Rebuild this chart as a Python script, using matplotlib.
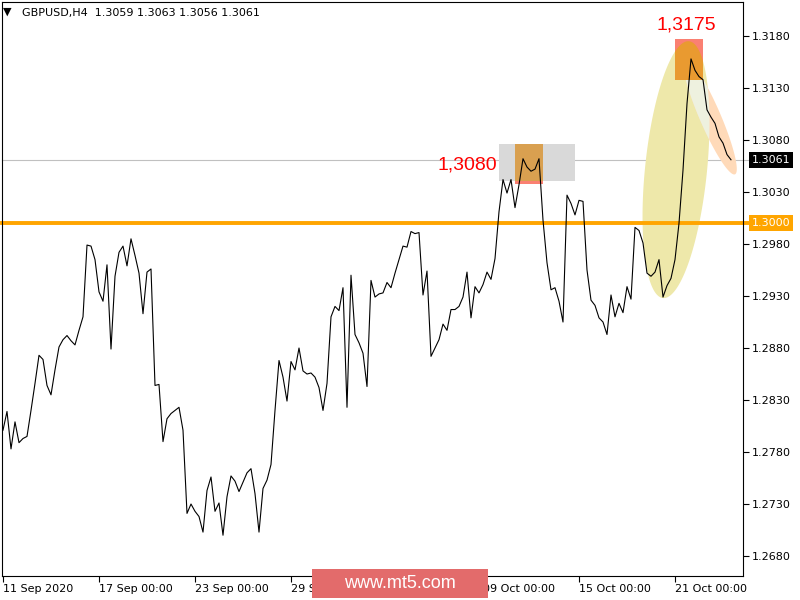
import matplotlib
matplotlib.use('Agg')
import matplotlib.pyplot as plt
import numpy as np
from matplotlib.patches import Rectangle, Polygon
from matplotlib.transforms import blended_transform_factory

# GBPUSD H4 closes, bar 0 = 11 Sep 2020 00:00
close = [
    1.2801, 1.2819, 1.2783, 1.2809, 1.2789, 1.2793, 1.2795, 1.2820, 1.2846, 1.2873,
    1.2869, 1.2844, 1.2835, 1.2859, 1.2881, 1.2888, 1.2892, 1.2887, 1.2883, 1.2897,
    1.2910, 1.2979, 1.2978, 1.2965, 1.2934, 1.2925, 1.2960, 1.2879, 1.2949, 1.2972,
    1.2978, 1.2959, 1.2985, 1.2969, 1.2952, 1.2913, 1.2953, 1.2956, 1.2844, 1.2845,
    1.2790, 1.2812, 1.2817, 1.2820, 1.2823, 1.2801, 1.2721, 1.2730, 1.2723, 1.2718,
    1.2703, 1.2743, 1.2756, 1.2723, 1.2731, 1.2700, 1.2737, 1.2757, 1.2752, 1.2742,
    1.2751, 1.2760, 1.2764, 1.2740, 1.2703, 1.2745, 1.2753, 1.2768, 1.2820, 1.2868,
    1.2852, 1.2829, 1.2867, 1.2859, 1.2880, 1.2858, 1.2855, 1.2856, 1.2852, 1.2842,
    1.2820, 1.2846, 1.2910, 1.2920, 1.2916, 1.2938, 1.2823, 1.2950, 1.2893, 1.2885,
    1.2875, 1.2843, 1.2945, 1.2929, 1.2932, 1.2933, 1.2943, 1.2938, 1.2952, 1.2965,
    1.2978, 1.2977, 1.2992, 1.2990, 1.2991, 1.2931, 1.2954, 1.2872, 1.2880, 1.2888,
    1.2903, 1.2897, 1.2917, 1.2917, 1.2920, 1.2929, 1.2953, 1.2909, 1.2939, 1.2933,
    1.2941, 1.2953, 1.2946, 1.2966, 1.3011, 1.3042, 1.3029, 1.3042, 1.3015, 1.3037,
    1.3062, 1.3054, 1.3050, 1.3052, 1.3062, 1.3003, 1.2962, 1.2936, 1.2938, 1.2925,
    1.2905, 1.3027, 1.3019, 1.3008, 1.3022, 1.3021, 1.2955, 1.2926, 1.2921, 1.2909,
    1.2905, 1.2893, 1.2931, 1.2910, 1.2923, 1.2914, 1.2939, 1.2927, 1.2996, 1.2993,
    1.2981, 1.2952, 1.2949, 1.2953, 1.2965, 1.2929, 1.2940, 1.2947, 1.2965, 1.3000,
    1.3051, 1.3115, 1.3158, 1.3147, 1.3141, 1.3138, 1.3109, 1.3102, 1.3096, 1.3083,
    1.3077, 1.3066, 1.3061,
]

tick_bars = [0, 24, 48, 72, 96, 120, 144, 168]
tick_labels = ['11 Sep 2020', '17 Sep 00:00', '23 Sep 00:00', '29 Sep 00:00',
               '05 Oct 00:00', '09 Oct 00:00', '15 Oct 00:00', '21 Oct 00:00']
price_ticks = [1.2680, 1.2730, 1.2780, 1.2830, 1.2880, 1.2930,
               1.2980, 1.3030, 1.3080, 1.3130, 1.3180]

header = 'GBPUSD,H4  1.3059 1.3063 1.3056 1.3061'
support_level = 1.3000
last_price = 1.3061

# objects drawn on the chart (bar index, price)
zone_box = (124, 143, 1.30406, 1.30762)
zone_mark = (128, 135, 1.30380, 1.30762)
peak_mark = (168, 175, 1.31377, 1.31771)
rally_ellipse = ((165.0, 1.2928), (171.5, 1.3175))
pullback_ellipse = ((170.5, 1.3158), (183.0, 1.3047))


def ellipse_pts(ax, end_a, end_b, half_w, n=160):
    # ellipse built in pixel space between two data points, back to data coords
    a, b = ax.transData.transform([end_a, end_b])
    c = (a + b) / 2
    u = (b - a) / 2
    v = np.array([-u[1], u[0]]) / np.hypot(*u) * half_w
    t = np.linspace(0, 2 * np.pi, n)
    pts = c + np.outer(np.cos(t), u) + np.outer(np.sin(t), v)
    return ax.transData.inverted().transform(pts)


def box(x0, x1, y0, y1, color, z):
    return Rectangle((x0, y0), x1 - x0, y1 - y0, fc=color, ec='none', zorder=z)


fig = plt.figure(figsize=(8, 6), dpi=100)
ax = fig.add_axes([2 / 800, 24 / 600, 741 / 800, 574 / 600])
ax.set_xlim(-0.25, 185)
ax.set_ylim(1.26608, 1.32127)

# 1.3080 zone
ax.add_patch(box(*zone_box, '#D9D9D9', 1))
ax.add_patch(box(*zone_mark, '#FA8072', 1.1))
ax.add_patch(box(zone_mark[0], zone_mark[1], zone_box[2], zone_box[3], '#D9A050', 1.2))

# rally / pullback ellipses and 1.3175 mark
big = Polygon(ellipse_pts(ax, *rally_ellipse, 31), closed=True, fc='#EEE8AA', ec='none', zorder=1)
ax.add_patch(big)
peach_pts = ellipse_pts(ax, *pullback_ellipse, 10.5)
ax.add_patch(Polygon(peach_pts, closed=True, fc='#FFDAB9', ec='none', zorder=1.1))
pale = Polygon(peach_pts, closed=True, fc='#EEF1DF', ec='none', zorder=1.2)
ax.add_patch(pale)
pale.set_clip_path(big)
ax.add_patch(box(*peak_mark, '#FA8072', 1.3))
overlap = box(*peak_mark, '#E99A30', 1.4)
ax.add_patch(overlap)
overlap.set_clip_path(big)

# horizontal levels
ax.axhline(last_price, xmax=1.009, color='#C0C0C0', lw=0.8, zorder=0.5, clip_on=False)
ax.axhline(support_level, xmax=1.009, color='#FFA500', lw=2.8, zorder=2, clip_on=False)

ax.plot(range(len(close)), close, color='black', lw=0.8, zorder=3)

ax.text(123.5, 1.3056, '1,3080', color='red', fontsize=14, family='Liberation Sans',
        ha='right', va='center', zorder=4)
ax.text(170.75, 1.31905, '1,3175', color='red', fontsize=14, family='Liberation Sans',
        ha='center', va='center', zorder=4)

# axes styling
for s in ax.spines.values():
    s.set_linewidth(0.8)
ax.yaxis.tick_right()
ax.set_yticks(price_ticks, [f'{p:.4f}' for p in price_ticks])
ax.tick_params(axis='y', direction='out', length=4, width=0.8, pad=2, labelsize=8)
ax.set_xticks(tick_bars, tick_labels)
ax.tick_params(axis='x', direction='out', length=4, width=0.8, pad=2, labelsize=8)
for lbl in ax.get_xticklabels():
    lbl.set_ha('left')

tr = blended_transform_factory(ax.transAxes, ax.transData)
ax.text(1.0121, last_price, f'{last_price:.4f}', transform=tr, color='white', fontsize=8,
        ha='left', va='center', zorder=5,
        bbox=dict(boxstyle='square,pad=0.25', fc='black', ec='none'))
ax.text(1.0121, support_level, f'{support_level:.4f}', transform=tr, color='white', fontsize=8,
        ha='left', va='center', zorder=5,
        bbox=dict(boxstyle='square,pad=0.25', fc='#FFA500', ec='none'))

# header
fig.text(3 / 800, 1 - 12 / 600, '▼', fontsize=8, va='center')
fig.text(22 / 800, 1 - 13 / 600, header, fontsize=8, va='center')

# watermark
fig.add_artist(Rectangle((312 / 800, 2 / 600), 176 / 800, 29 / 600, transform=fig.transFigure,
                         fc='#E36B6B', ec='none', zorder=5))
fig.text(0.5, 1 - 583 / 600, 'www.mt5.com', color='white', fontsize=13,
         family='Liberation Sans', ha='center', va='center', zorder=6)

fig.savefig('out.png', dpi=100)
